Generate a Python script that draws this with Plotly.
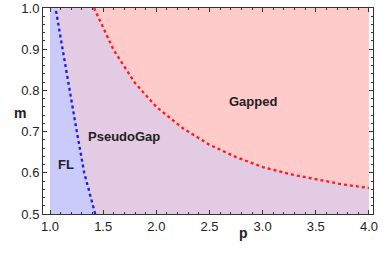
import plotly.graph_objects as go

# Phase boundaries
fl_m = [0.5, 0.6, 0.7, 0.8, 0.9, 1.0]
fl_p = [1.425, 1.322, 1.252, 1.185, 1.117, 1.052]

gap_p = [1.414, 1.6, 1.8, 2.0, 2.25, 2.5, 2.75, 3.0, 3.25, 3.5, 3.75, 4.0]
gap_m = [1.0, 0.897, 0.818, 0.760, 0.708, 0.668, 0.638, 0.614, 0.597, 0.584, 0.572, 0.563]

p_min, p_max = 1.0, 4.0
m_min, m_max = 0.5, 1.0

region_labels = ["Gapped", "PseudoGap", "FL"]
label_p = [2.91, 1.70, 1.15]
label_m = [0.774, 0.687, 0.619]

x_ticks = [1.0, 1.5, 2.0, 2.5, 3.0, 3.5, 4.0]
y_ticks = [0.5, 0.6, 0.7, 0.8, 0.9, 1.0]

fig = go.Figure()

# PseudoGap base region
fig.add_trace(go.Scatter(
    x=[p_min, p_max, p_max, p_min, p_min],
    y=[m_min, m_min, m_max, m_max, m_min],
    fill="toself", fillcolor="#e3cbe3", line=dict(width=0),
    mode="lines", hoverinfo="skip", showlegend=False))

# FL region
fig.add_trace(go.Scatter(
    x=[p_min] + fl_p + [p_min],
    y=[m_min] + fl_m + [m_max],
    fill="toself", fillcolor="#cbcbfb", line=dict(width=0),
    mode="lines", hoverinfo="skip", showlegend=False))

# Gapped region
fig.add_trace(go.Scatter(
    x=gap_p + [p_max, gap_p[0]],
    y=gap_m + [m_max, gap_m[0]],
    fill="toself", fillcolor="#ffcaca", line=dict(width=0),
    mode="lines", hoverinfo="skip", showlegend=False))

# Boundaries
fig.add_trace(go.Scatter(
    x=fl_p, y=fl_m, mode="lines", line=dict(color="#1a1aff", width=2.3, dash="dot"),
    showlegend=False))
fig.add_trace(go.Scatter(
    x=gap_p, y=gap_m, mode="lines", line=dict(color="#ff1a1a", width=2.3, dash="dot"),
    showlegend=False))

for t, xp, ym in zip(region_labels, label_p, label_m):
    fig.add_annotation(x=xp, y=ym, text="<b>%s</b>" % t, showarrow=False,
                       font=dict(family="Liberation Sans, Arial", size=13, color="#222"))

fig.add_annotation(xref="paper", yref="paper", x=(243 - 43) / 330, y=(214 - 243) / 206,
                   text="<b>p</b>", showarrow=False,
                   font=dict(family="Liberation Sans, Arial", size=14, color="#222"))
fig.add_annotation(xref="paper", yref="paper", x=(12 - 43) / 330, y=(214 - 113) / 206,
                   text="<b>m</b>", showarrow=False,
                   font=dict(family="Liberation Sans, Arial", size=14, color="#222"))

axis_common = dict(
    showgrid=False, zeroline=False, showline=True, linecolor="#333", linewidth=1,
    mirror="allticks", ticks="inside", ticklen=4, tickcolor="#333", tickwidth=1,
    tickfont=dict(family="Liberation Sans, Arial", size=13, color="#222"),
    automargin=False, ticklabeloverflow="allow",
)

fig.update_xaxes(range=[0.934, 4.038], tickvals=x_ticks,
                 ticktext=["%.1f" % v for v in x_ticks],
                 minor=dict(dtick=0.1, ticks="inside", ticklen=2, tickcolor="#333"),
                 **axis_common)
fig.update_yaxes(range=[m_min, m_max], tickvals=y_ticks,
                 ticktext=["%.1f" % v for v in y_ticks],
                 minor=dict(dtick=0.02, ticks="inside", ticklen=2, tickcolor="#333"),
                 **axis_common)

fig.update_layout(width=382, height=259, margin=dict(l=43, r=9, t=8, b=45),
                  plot_bgcolor="white", paper_bgcolor="white")

fig.write_html("out.html", config={"displayModeBar": False},
               post_script="document.body.style.margin='0';")
